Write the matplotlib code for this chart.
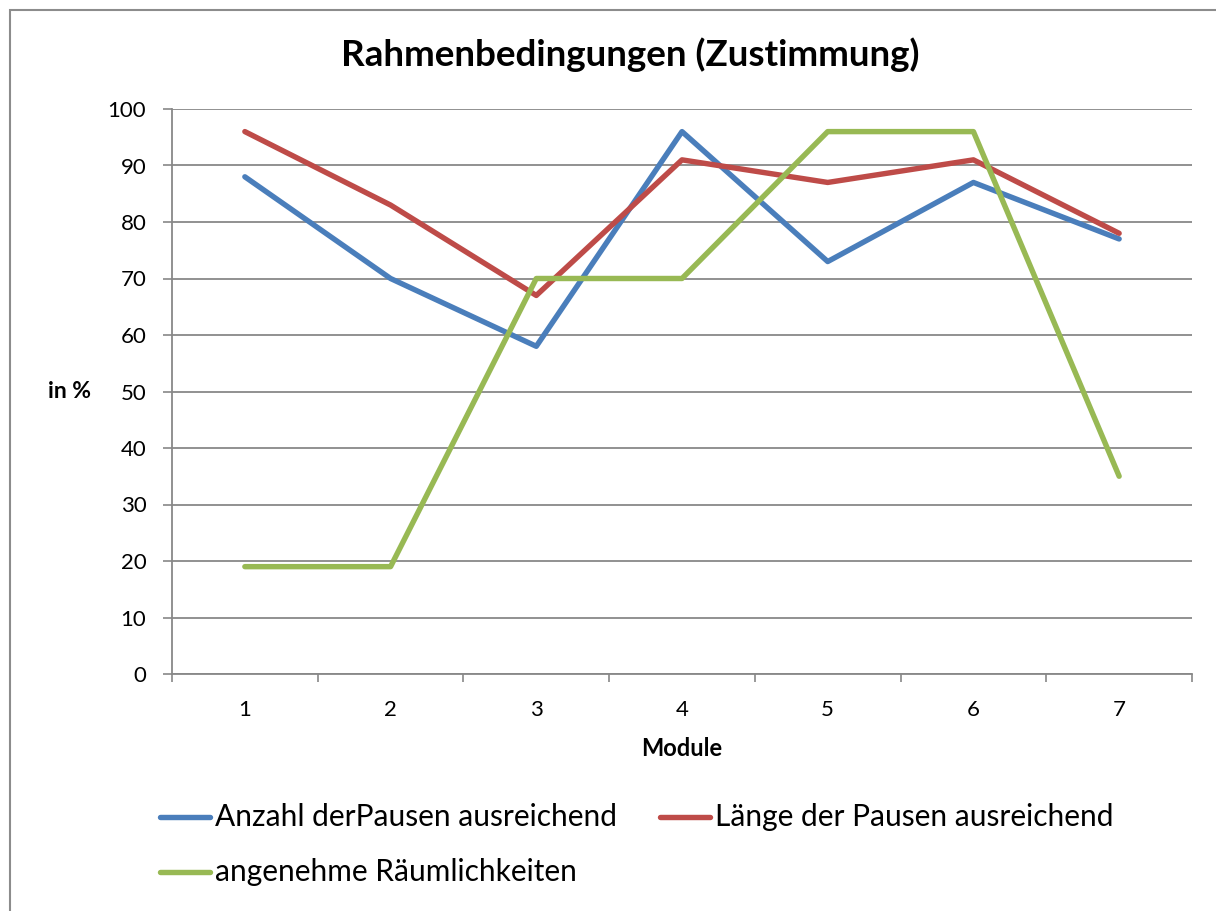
import matplotlib.pyplot as plt
from matplotlib.patches import Rectangle
from matplotlib.lines import Line2D

plt.rcParams["font.family"] = ["Lato", "DejaVu Sans"]

# ── Data ─────────────────────────────────────────────────────────────────────
modules = [1, 2, 3, 4, 5, 6, 7]
anzahl  = [88, 70, 58, 96, 73, 87, 77]
laenge  = [96, 83, 67, 91, 87, 91, 78]
raeume  = [19, 19, 70, 70, 96, 96, 35]

series = [
    ("Anzahl derPausen ausreichend", anzahl, "#4A7EBB"),
    ("Länge der Pausen ausreichend", laenge, "#BE4B48"),
    ("angenehme Räumlichkeiten",     raeume, "#98B954"),
]
GRID = "#888888"

# ── Plot ─────────────────────────────────────────────────────────────────────
fig = plt.figure(figsize=(12.16, 9.11), dpi=100)
W, H = 1216, 911
ax = fig.add_axes([172 / W, 1 - 674 / H, (1192 - 172) / W, (674 - 109) / H])

for lbl, vals, col in series:
    ax.plot(modules, vals, color=col, linewidth=3.9, label=lbl,
            solid_capstyle="round", solid_joinstyle="round", zorder=3)

ax.set_xlim(0.5, 7.5)
ax.set_ylim(0, 100)
ax.set_yticks(range(0, 101, 10))
ax.set_xticks(modules)
ax.set_xticks([x + 0.5 for x in range(0, 8)], minor=True)
ax.tick_params(axis="x", which="major", length=0, pad=19, labelsize=16)
ax.tick_params(axis="x", which="minor", length=6, width=1.2, color=GRID)
ax.tick_params(axis="y", length=6.5, width=1.2, color=GRID, pad=12, labelsize=16)
ax.grid(axis="y", color=GRID, linewidth=1.3, zorder=1)
for s in ["top", "right"]:
    ax.spines[s].set_visible(False)
for s in ["left", "bottom"]:
    ax.spines[s].set_color(GRID)
    ax.spines[s].set_linewidth(1.3)

fig.text(630 / W, 1 - 55 / H, "Rahmenbedingungen (Zustimmung)",
         ha="center", va="center", fontsize=26.5, fontweight="bold")
fig.text(70 / W, 1 - 392 / H, "in %", ha="center", va="center",
         fontsize=16.5, fontweight="bold")
fig.text(682 / W, 1 - 748 / H, "Module", ha="center", va="center",
         fontsize=17, fontweight="bold")

# legend, laid out like the original (two columns, wrapped)
leg_items = [(160, 817, series[0]), (660, 817, series[1]), (160, 872, series[2])]
for x0, y0, (lbl, _, col) in leg_items:
    fig.add_artist(Line2D([x0 / W, (x0 + 50) / W], [1 - y0 / H] * 2,
                          color=col, linewidth=3.9, solid_capstyle="round"))
    fig.text((x0 + 55) / W, 1 - y0 / H, lbl, ha="left", va="center", fontsize=21.5)

# outer chart frame (cut by the page edge)
fig.add_artist(Rectangle((10 / W, -0.1), 1.2, 1 - 10 / H + 0.1,
                         transform=fig.transFigure, fill=False,
                         edgecolor="#8C8C8C", linewidth=1.5))

fig.savefig("out.png", dpi=100, facecolor="white")
